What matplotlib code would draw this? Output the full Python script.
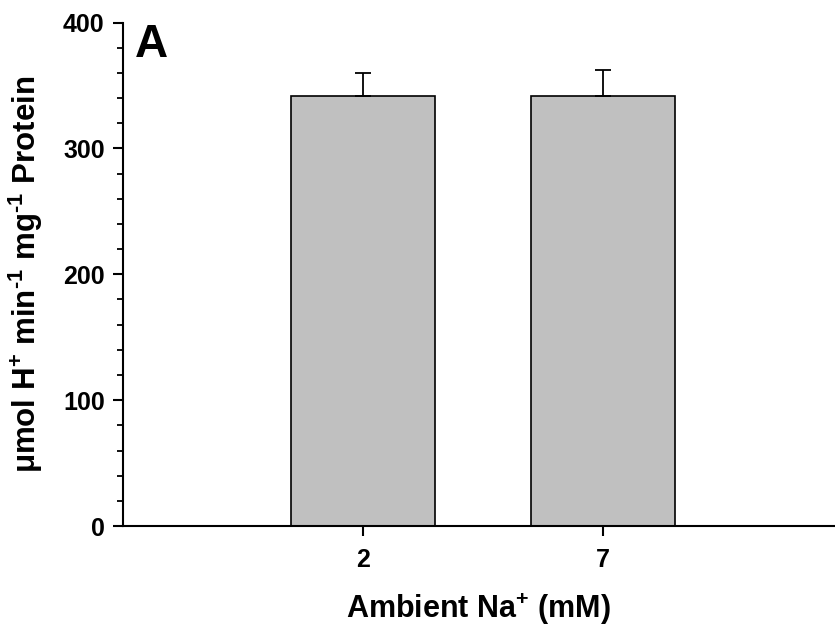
import matplotlib
matplotlib.use("Agg")
import matplotlib.pyplot as plt
from matplotlib.ticker import MultipleLocator

# data
categories = ["2", "7"]
means = [341.3, 341.8]
errors_up = [18.7, 20.7]

plt.rcParams["font.family"] = ["Liberation Sans", "DejaVu Sans"]
plt.rcParams["font.weight"] = "bold"
plt.rcParams["mathtext.fontset"] = "custom"
plt.rcParams["mathtext.rm"] = "Liberation Sans:bold"
plt.rcParams["mathtext.bf"] = "Liberation Sans:bold"
plt.rcParams["mathtext.default"] = "bf"

fig = plt.figure(figsize=(8.35, 6.27), dpi=100)
ax = fig.add_axes([0.147, 0.161, 0.853, 0.803])

pos = [1, 2]
ax.bar(pos, means, width=0.6, color="#c0c0c0", edgecolor="black", linewidth=1.2, zorder=2)
ax.errorbar(pos, means, yerr=[[0, 0], errors_up], fmt="none", ecolor="black",
            elinewidth=1.3, capsize=5.7, capthick=1.3, zorder=3)

ax.set_xlim(0, 2.968)
ax.set_ylim(0, 400)
ax.set_xticks(pos)
ax.set_xticklabels(categories)
ax.yaxis.set_major_locator(MultipleLocator(100))
ax.yaxis.set_minor_locator(MultipleLocator(20))

for s in ["top", "right"]:
    ax.spines[s].set_visible(False)
for s in ["left", "bottom"]:
    ax.spines[s].set_linewidth(1.5)

ax.tick_params(axis="both", which="major", direction="out", length=7, width=1.5,
               labelsize=18, pad=6)
ax.tick_params(axis="y", which="minor", direction="out", length=4, width=1.3)
ax.tick_params(axis="x", pad=9)

ax.set_xlabel(r"Ambient Na$^{+}$ (mM)", fontsize=22, fontweight="bold", labelpad=14)
ax.set_ylabel(r"$\mu$mol H$^{+}$ min$^{\text{-}1}$ mg$^{\text{-}1}$ Protein", fontsize=22.5,
              fontweight="bold", labelpad=13)

ax.text(0.017, 1.0, "A", transform=ax.transAxes, fontsize=33, fontweight="bold",
        va="top", ha="left")

fig.savefig("out.png", dpi=100)
